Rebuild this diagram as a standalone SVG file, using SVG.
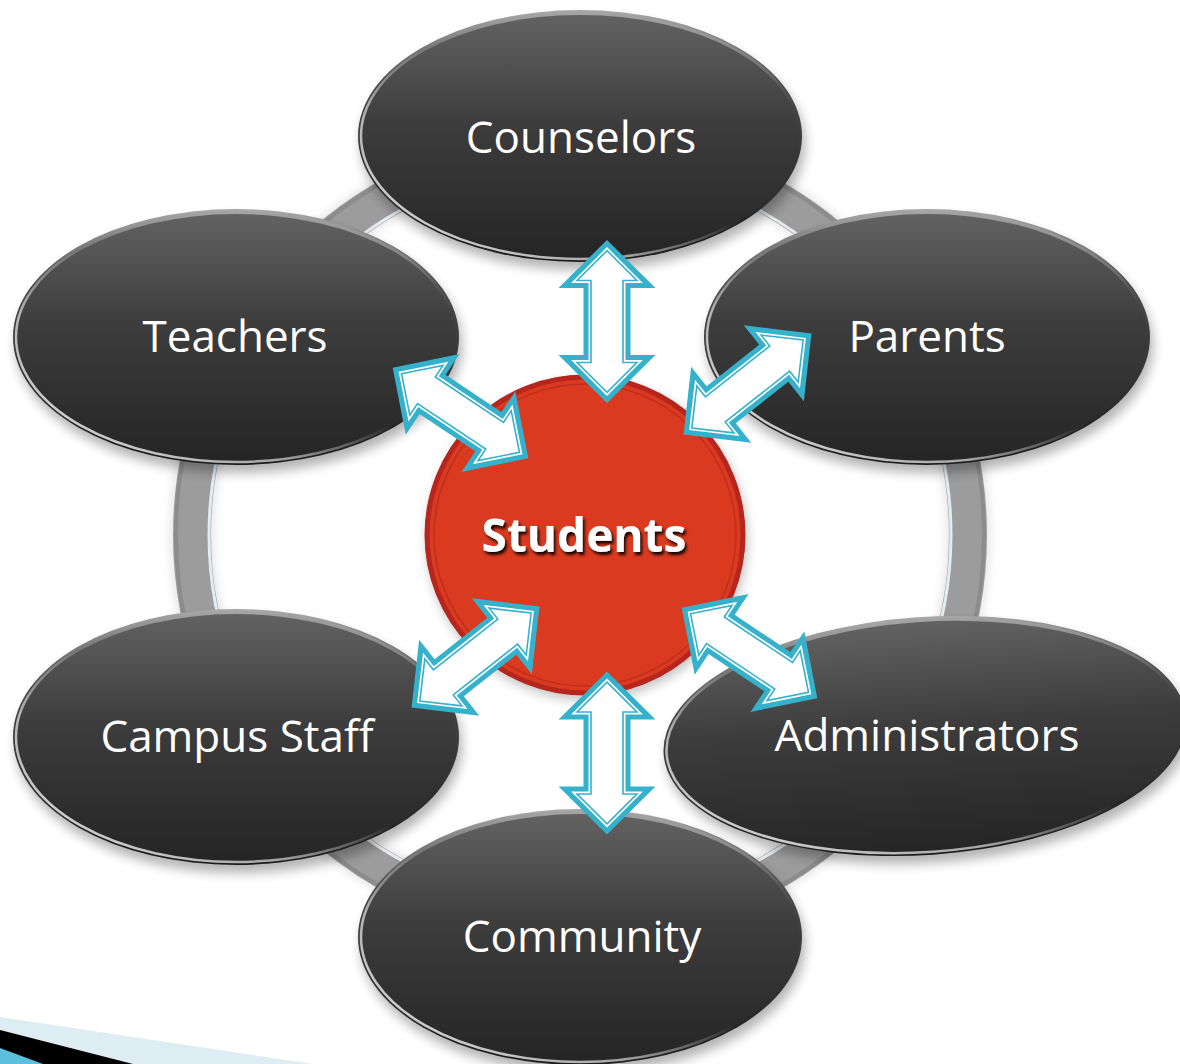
<svg xmlns="http://www.w3.org/2000/svg" xmlns:xlink="http://www.w3.org/1999/xlink" width="1180" height="1064" viewBox="0 0 1180 1064">
<style>
.lbl{font-family:"Open Sans","DejaVu Sans",sans-serif;font-size:44px;fill:#ffffff;text-anchor:middle}
.stu{font-family:"Open Sans","DejaVu Sans",sans-serif;font-size:46px;font-weight:bold;fill:#ffffff;text-anchor:middle}
.rim{fill:url(#rimGrad)}
.face{fill:url(#faceGrad)}
.hl{fill:none;stroke:url(#hlGrad);stroke-width:2.5}
.shd{fill:#000;opacity:.3;filter:url(#blur)}
</style>
<defs>
<linearGradient id="faceGrad" x1="0" y1="0" x2="0" y2="1">
<stop offset="0" stop-color="#626262"/>
<stop offset="0.45" stop-color="#3c3c3c"/>
<stop offset="1" stop-color="#252525"/>
</linearGradient>
<linearGradient id="rimGrad" x1="0" y1="0" x2="0" y2="1">
<stop offset="0" stop-color="#a8a8a8"/>
<stop offset="0.3" stop-color="#4a4a4a"/>
<stop offset="1" stop-color="#1c1c1c"/>
</linearGradient>
<linearGradient id="hlGrad" x1="0" y1="1" x2="1" y2="0">
<stop offset="0" stop-color="#ffffff" stop-opacity="0.9"/>
<stop offset="0.3" stop-color="#ffffff" stop-opacity="0.6"/>
<stop offset="0.5" stop-color="#ffffff" stop-opacity="0"/>
<stop offset="0.8" stop-color="#cfd8e0" stop-opacity="0"/>
<stop offset="0.95" stop-color="#cfd8e0" stop-opacity="0.5"/>
</linearGradient>
<filter id="blur" x="-20%" y="-20%" width="140%" height="140%"><feGaussianBlur stdDeviation="6"/></filter>
<filter id="tshadow" x="-20%" y="-40%" width="140%" height="180%"><feDropShadow dx="2" dy="3" stdDeviation="1.5" flood-color="#000" flood-opacity="0.9"/></filter>
<g id="dblarrow">
<path d="M-81.5,0 L-33.5,-48.5 L-33.5,-23.5 L33.5,-23.5 L33.5,-48.5 L81.5,0 L33.5,48.5 L33.5,23.5 L-33.5,23.5 L-33.5,48.5 Z" fill="#36b1cc"/>
<path d="M-74.4,0 L-38.5,-35.9 L-38.5,-18.5 L38.5,-18.5 L38.5,-35.9 L74.4,0 L38.5,35.9 L38.5,18.5 L-38.5,18.5 L-38.5,35.9 Z" fill="#ffffff"/>
<path d="M-70.9,0 L-41,-29.9 L-41,-16 L41,-16 L41,-29.9 L70.9,0 L41,29.9 L41,16 L-41,16 L-41,29.9 Z" fill="none" stroke="#36b1cc" stroke-width="1.6"/>
</g>
</defs>
<rect width="1180" height="1064" fill="#ffffff"/>
<g id="ring">
<circle cx="580" cy="535" r="388" fill="none" stroke="#bdbdbd" stroke-width="40" opacity="0.5" filter="url(#blur)"/>
<circle cx="580" cy="535" r="388" fill="none" stroke="#9c9c9c" stroke-width="38"/>
<circle cx="580" cy="535" r="404" fill="none" stroke="#8c8c8c" stroke-width="4"/>
<circle cx="580" cy="535" r="371" fill="none" stroke="#e4ecf0" stroke-width="3"/>
</g>
<g id="swoosh">
<polygon points="0,1017 313,1064 0,1064" fill="#deedf4"/>
<polygon points="0,1030 133,1064 0,1064" fill="#000000"/>
<polygon points="0,1048 43,1064 0,1064" fill="#5bc0de"/>
</g>
<g id="node-counselors">
<ellipse class="shd" cx="583" cy="144" rx="222" ry="126"/>
<ellipse class="rim" cx="580" cy="136" rx="222" ry="126"/>
<ellipse class="face" cx="580" cy="137" rx="219" ry="122"/>
<ellipse class="hl" cx="580" cy="136" rx="219" ry="123"/>
<text class="lbl" x="581" y="153">Counselors</text>
</g>
<g id="node-teachers">
<ellipse class="shd" cx="239" cy="345" rx="223" ry="128"/>
<ellipse class="rim" cx="236" cy="337" rx="223" ry="128"/>
<ellipse class="face" cx="236" cy="338" rx="220" ry="124"/>
<ellipse class="hl" cx="236" cy="337" rx="220" ry="125"/>
<text class="lbl" x="235" y="352">Teachers</text>
</g>
<g id="node-parents">
<ellipse class="shd" cx="930" cy="345" rx="223" ry="128"/>
<ellipse class="rim" cx="927" cy="337" rx="223" ry="128"/>
<ellipse class="face" cx="927" cy="338" rx="220" ry="124"/>
<ellipse class="hl" cx="927" cy="337" rx="220" ry="125"/>
<text class="lbl" x="927" y="352">Parents</text>
</g>
<g id="node-campus-staff">
<ellipse class="shd" cx="239" cy="745" rx="223" ry="128"/>
<ellipse class="rim" cx="236" cy="737" rx="223" ry="128"/>
<ellipse class="face" cx="236" cy="738" rx="220" ry="124"/>
<ellipse class="hl" cx="236" cy="737" rx="220" ry="125"/>
<text class="lbl" x="237" y="752">Campus Staff</text>
</g>
<g id="node-administrators">
<g transform="rotate(-4 925 736)">
<ellipse class="shd" cx="928" cy="744" rx="262" ry="119"/>
<ellipse class="rim" cx="925" cy="736" rx="262" ry="119"/>
<ellipse class="face" cx="925" cy="737" rx="259" ry="115"/>
<ellipse class="hl" cx="925" cy="736" rx="259" ry="116"/>
</g>
<text class="lbl" x="927" y="751">Administrators</text>
</g>
<g id="node-community">
<ellipse class="shd" cx="583" cy="945" rx="222" ry="128"/>
<ellipse class="rim" cx="580" cy="937" rx="222" ry="128"/>
<ellipse class="face" cx="580" cy="938" rx="219" ry="124"/>
<ellipse class="hl" cx="580" cy="937" rx="219" ry="125"/>
<text class="lbl" x="582" y="952">Community</text>
</g>
<g id="node-students">
<circle cx="587" cy="540" r="160" fill="#000" opacity="0.25" filter="url(#blur)"/>
<circle cx="585" cy="535" r="160" fill="#d93a20"/>
<circle cx="585" cy="535" r="158" fill="none" stroke="#b6261d" stroke-width="5"/>
<circle cx="585" cy="535" r="151" fill="none" stroke="#c02e1e" stroke-width="1.5"/>
<text class="stu" x="584" y="552" filter="url(#tshadow)">Students</text>
</g>
<g id="connectors">
<use xlink:href="#dblarrow" transform="translate(607 321.5) rotate(90)"/>
<use xlink:href="#dblarrow" transform="translate(607 753) rotate(90)"/>
<use xlink:href="#dblarrow" transform="translate(460.5 413) rotate(33.7)"/>
<use xlink:href="#dblarrow" transform="translate(747.5 384) rotate(-38.3)"/>
<use xlink:href="#dblarrow" transform="translate(475.5 657) rotate(-38.3)"/>
<use xlink:href="#dblarrow" transform="translate(749.5 653) rotate(33.7)"/>
</g>
</svg>
